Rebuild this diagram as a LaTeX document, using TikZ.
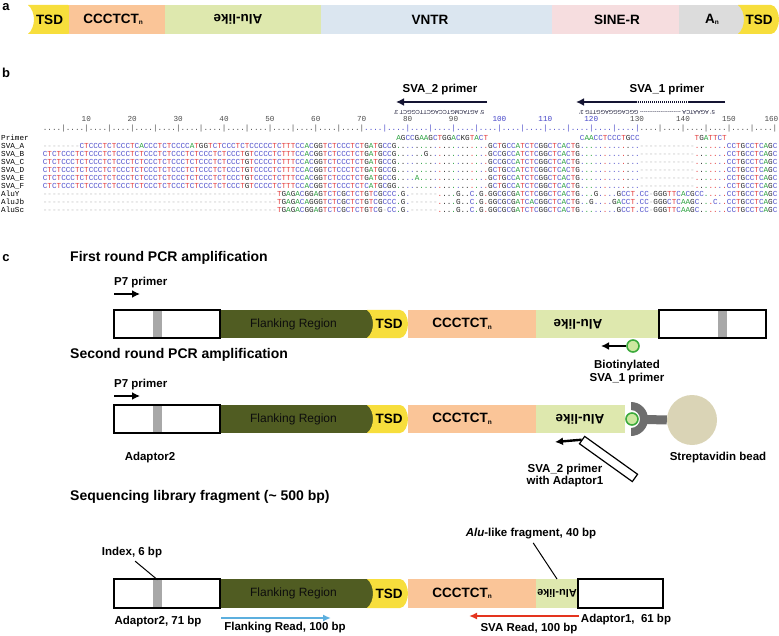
\documentclass[tikz,border=0pt]{standalone}
\usepackage{fontspec}
\setmainfont{Liberation Sans}
\newfontfamily\seqfont{Liberation Mono}
\usepackage{graphicx}
\usetikzlibrary{arrows.meta}

\definecolor{tsdyellow}{RGB}{247,222,60}
\definecolor{ctsalmon}{RGB}{250,197,152}
\definecolor{alugreen}{RGB}{222,232,174}
\definecolor{vntrblue}{RGB}{219,230,240}
\definecolor{sinepink}{RGB}{246,221,223}
\definecolor{polyagray}{RGB}{220,220,220}
\definecolor{flankolive}{RGB}{80,92,34}
\definecolor{idxgray}{RGB}{168,168,168}
\definecolor{cupgray}{RGB}{110,110,110}
\definecolor{beadtan}{RGB}{218,212,182}
\definecolor{biogreen}{RGB}{60,170,60}
\definecolor{biofill}{RGB}{205,232,160}
\definecolor{readblue}{RGB}{92,175,222}
\definecolor{readred}{RGB}{228,52,30}
\definecolor{primernavy}{RGB}{20,20,50}
\definecolor{seqA}{RGB}{40,160,60}
\definecolor{seqC}{RGB}{85,85,205}
\definecolor{seqG}{RGB}{45,45,45}
\definecolor{seqT}{RGB}{228,60,60}
\definecolor{seqgap}{RGB}{185,185,185}
\definecolor{rulerblue}{RGB}{70,70,200}

\def\tsdshape(#1:#2:#3:#4){\fill[tsdyellow] (#1,#3) -- ({#2-8},#3) .. controls ({#2-3},#3) and (#2,{(#3+#4)/2-6}) .. (#2,{(#3+#4)/2}) .. controls (#2,{(#3+#4)/2+6}) and ({#2-3},#4) .. ({#2-8},#4) -- (#1,#4) .. controls ({#1+4},{#4-3}) and ({#1+6},{(#3+#4)/2+5}) .. ({#1+6},{(#3+#4)/2}) .. controls ({#1+6},{(#3+#4)/2-5}) and ({#1+4},{#3+3}) .. (#1,#3) -- cycle;}

\newcommand\seqchar[1]{%
  \if#1A\textcolor{seqA}{A}\else
  \if#1C\textcolor{seqC}{C}\else
  \if#1G\textcolor{seqG}{G}\else
  \if#1T\textcolor{seqT}{T}\else
  \if#1a\textcolor{seqA}{.}\else
  \if#1c\textcolor{seqC}{.}\else
  \if#1g\textcolor{seqG}{.}\else
  \if#1t\textcolor{seqT}{.}\else
  \if#1-\textcolor{seqgap}{-}\else
  \textcolor{seqG}{#1}\fi\fi\fi\fi\fi\fi\fi\fi\fi}
\def\seqrow#1{\edef\seqtmp{#1}\expandafter\seqloop\seqtmp\relax}
\def\seqloop#1{\ifx#1\relax\else\seqchar{#1}\expandafter\seqloop\fi}

\def\ctrep{CCCTCT}
\def\dashten{----------}
\def\svahead{CTCT\ctrep\ctrep\ctrep\ctrep\ctrep\ctrep CCCTGTC}
\def\svamid{CCCTCTTTCCACGGTCTCCCTCTGATGCCG}
\def\prdots{agccgaagctggacggtact}
\def\svatail{caacctccctgcc------------tgattctCCTGCCTCAGC}
\def\alugap{\dashten\dashten\dashten\dashten\dashten-}
\def\aluvar{aGc------tggaGggCaGt}

\def\nsub{\raisebox{-1.5pt}{\fontsize{6.5}{7}\selectfont n}}
\def\ctn{CCCTCT\nsub}
\def\aluflip{\rotatebox[origin=c]{180}{Alu-like}}

\tikzset{
  blk/.style={rectangle, inner sep=0pt, outer sep=0pt, anchor=west, minimum height=28pt},
  adbox/.style={blk, draw=black, line width=1.2pt, fill=white},
  stripe/.style={rectangle, fill=idxgray, inner sep=0pt, minimum width=9pt, minimum height=26pt},
  blktxt/.style={font=\fontsize{13.5}{15}\selectfont\bfseries, inner sep=0pt},
  flanktxt/.style={font=\fontsize{12}{14}\selectfont, inner sep=0pt, text=black!95},
  hdr/.style={font=\fontsize{14}{16}\selectfont\bfseries, anchor=west, inner sep=0pt},
  pnl/.style={font=\fontsize{13}{15}\selectfont\bfseries, inner sep=0pt},
  lbl/.style={font=\fontsize{11.5}{13}\selectfont\bfseries, inner sep=0pt, align=center},
  seqtxt/.style={font=\seqfont\fontsize{7.65}{8}\selectfont, inner sep=0pt, anchor=west},
  rulnum/.style={font=\seqfont\fontsize{7.65}{8}\selectfont, inner sep=0pt, text=black!70},
  primline/.style={line width=2.8pt, draw=primernavy},
  primrev/.style={font=\fontsize{5.6}{6}\selectfont, inner sep=0pt, rotate=180, text=primernavy},
  primarrow/.style={line width=2.4pt, -{Latex[length=8pt,width=8pt]}},
  readarrow/.style={line width=2pt, -{Latex[length=8pt,width=7pt]}},
  biotin/.style={circle, draw=biogreen, line width=1.6pt, fill=biofill, minimum size=12pt, inner sep=0pt}
}

\begin{document}
\begin{tikzpicture}[x=1pt, y=-1pt]
		%%%%% START %%%%%
		\useasboundingbox (0,0) rectangle (779,636);
		
		\node[pnl] (pa) at (6,7) {a};
		\tsdshape(28:76:5:34)
		\node[blk, minimum height=29pt, fill=ctsalmon, minimum width=96pt] (cta) at (69,19.5) {};
		\node[blk, minimum height=29pt, fill=alugreen, minimum width=156pt] (alua) at (165,19.5) {};
		\node[blk, minimum height=29pt, fill=vntrblue, minimum width=231pt] (vntra) at (321,19.5) {};
		\node[blk, minimum height=29pt, fill=sinepink, minimum width=127pt] (sinea) at (552,19.5) {};
		\node[blk, minimum height=29pt, fill=polyagray, minimum width=65pt] (polya) at (679,19.5) {};
		\tsdshape(738:779:5:34)
		\node[blktxt] (tsdat1) at (49.5,19.5) {TSD};
		\node[blktxt] (ctat) at (113,19.5) {\ctn};
		\node[blktxt] (aluat) at (238,19.5) {\aluflip};
		\node[blktxt] (vntrat) at (430,19.5) {VNTR};
		\node[blktxt] (sineat) at (617,19.5) {SINE-R};
		\node[blktxt] (polyat) at (712,19.5) {A\nsub};
		\node[blktxt] (tsdat2) at (759,19.5) {TSD};
		
		\node[pnl] (pb) at (6,73) {b};
		\node[lbl] (sva2lbl) at (440,90) {SVA\_2 primer};
		\node[lbl] (sva1lbl) at (667,90) {SVA\_1 primer};
		\coordinate (s2a) at (487,102);
		\coordinate (s2b) at (396,102);
		\draw[primline, -{Latex[length=8pt,width=8pt]}] (s2a) -- (s2b);
		\coordinate (s1a) at (725,102);
		\coordinate (s1b) at (689,102);
		\coordinate (s1c) at (637,102);
		\coordinate (s1d) at (576,102);
		\draw[primline] (s1a) -- (s1b);
		\draw[primline, dash pattern=on 1.2pt off 0.8pt] (s1b) -- (s1c);
		\draw[primline, -{Latex[length=8pt,width=8pt]}] (s1c) -- (s1d);
		\node[primrev] (sva2seq) at (439,112) {5' AGTACMGTCCAGCTTCGGCT 3'};
		\node[primrev] (sva1seq) at (647,112) {5' AGAATCA {-}{-}{-}{-}{-}{-}{-}{-}{-}{-}{-}{-}{-}{-}{-}{-}{-}{-}{-}{-}{-}{-} GGCAGGGAGGTTG 3'};
		
		\foreach \n in {10,20,...,90,130,140,150}
			\node[rulnum] (num\n) at ({42.7+4.59*(\n-0.5)},119) {\n};
		\foreach \n in {100,110,120}
			\node[rulnum, text=rulerblue] (num\n) at ({42.7+4.59*(\n-0.5)},119) {\n};
		\node[rulnum, anchor=east] (num160) at (778.5,119) {160};
		\foreach \k in {0,...,6,13,14,15}
			\node[seqtxt, text=black!70] (rul\k) at ({42.7+45.9*\k},129) {....|....|};
		\foreach \k in {7,...,12}
			\node[seqtxt, text=rulerblue] (rul\k) at ({42.7+45.9*\k},129) {....|....|};
		
		\foreach \lab/\yy [count=\i] in {Primer/138, SVA\_A/146, SVA\_B/154, SVA\_C/162, SVA\_D/170, SVA\_E/178, SVA\_F/186, AluY/194, AluJb/202, AluSc/210}
			\node[seqtxt] (lab\i) at (1,\yy) {\lab};
		
		\node[seqtxt] (prim1) at ({42.7+4.59*77},138) {\seqrow{AGCCGAAGCTGGACKGTACT}};
		\node[seqtxt] (prim2) at ({42.7+4.59*117},138) {\seqrow{CAACCTCCCTGCC}};
		\node[seqtxt] (prim3) at ({42.7+4.59*142},138) {\seqrow{TGATTCT}};
		\node[seqtxt] (rowA) at (42.7,146) {\seqrow{--------CTCCCTCTCCCTCACCCTCTCCCCATGGTCTCCCTCTCCCCCTCTTTCCACGGTCTCCCTCTGATGCCG\prdots GCTGCCATCTCGGCTCACTG\svatail}};
		\node[seqtxt] (rowB) at (42.7,154) {\seqrow{\svahead\svamid agccgaGgctggacggtact GCCGCCATCTCGGCTCACTG\svatail}};
		\node[seqtxt] (rowC) at (42.7,162) {\seqrow{\svahead\svamid\prdots GCCGCCATCTCGGCTCACTG\svatail}};
		\node[seqtxt] (rowD) at (42.7,170) {\seqrow{\svahead\svamid\prdots GCTGCCATCTCGGCTCACTG\svatail}};
		\node[seqtxt] (rowE) at (42.7,178) {\seqrow{\svahead\svamid agccAaagctggacggtact GCTGCCATCTCGGCTCACTG\svatail}};
		\node[seqtxt] (rowF) at (42.7,186) {\seqrow{\svahead CCCTCTTTCCACGGTCTCCCTCTCATGCGG\prdots GCTGCCATCTCGGCTCACTG\svatail}};
		\node[seqtxt] (rowY) at (42.7,194) {\seqrow{\alugap TGAGACGGAGTCTCGCTCTGTCGCCC\aluvar GGCGCGATCTCGGCTCACTG caaGctccGCCTcCC-GGGTTCACGCCattctCCTGCCTCAGC}};
		\node[seqtxt] (rowJb) at (42.7,202) {\seqrow{\alugap TGAGACAGGGTCTCGCTCTGTCGCCC\aluvar GGCGCGATCACGGCTCACTG caGcctcGACCTcCC-GGGCTCAAGCgatCctCCTGCCTCAGC}};
		\node[seqtxt] (rowSc) at (42.7,210) {\seqrow{\alugap TGAGACGGAGTCTCGCTCTGTCG-CC\aluvar GGCGCGATCTCGGCTCACTG caacctccGCCTcCC-GGGTTCAAGCgattctCCTGCCTCAGC}};
		
		\node[pnl] (pc) at (6,258) {c};
		\node[hdr] (hdr1) at (70,258) {First round PCR amplification};
		\node[lbl, anchor=west] (p7lbl1) at (114,283) {P7 primer};
		\coordinate (p7a1) at (114,294);
		\coordinate (p7b1) at (140,294);
		\draw[primarrow] (p7a1) -- (p7b1);
		\node[blk, fill=flankolive, minimum width=153pt] (flank1) at (220,324) {};
		\node[adbox, minimum width=106pt] (adl1) at (114,324) {};
		\node[stripe] (idx1) at (157.5,324) {};
		\node[flanktxt] (flankt1) at (293.5,324) {Flanking Region};
		\tsdshape(367:408:310:338)
		\node[blktxt] (tsd1) at (389,324) {TSD};
		\node[blk, fill=ctsalmon, minimum width=128pt] (ct1) at (408,324) {};
		\node[blktxt] (ctt1) at (462,324) {\ctn};
		\node[blk, fill=alugreen, minimum width=123pt] (alu1) at (536,324) {};
		\node[blktxt] (alut1) at (578,324) {\aluflip};
		\node[adbox, minimum width=107pt] (adr1) at (659,324) {};
		\node[stripe] (idx1r) at (722,324) {};
		\node[biotin] (bio1) at (633,346) {};
		\coordinate (bio1tip) at (601,346);
		\draw[primarrow] (bio1.west) -- (bio1tip);
		\node[lbl] (biolbl) at (627,372) {Biotinylated\\SVA\_1 primer};
		
		\node[hdr] (hdr2) at (70,355) {Second round PCR amplification};
		\node[lbl, anchor=west] (p7lbl2) at (114,385) {P7 primer};
		\coordinate (p7a2) at (114,396);
		\coordinate (p7b2) at (140,396);
		\draw[primarrow] (p7a2) -- (p7b2);
		\node[blk, fill=flankolive, minimum width=153pt] (flank2) at (220,419) {};
		\node[adbox, minimum width=106pt] (adl2) at (114,419) {};
		\node[stripe] (idx2) at (157.5,419) {};
		\node[flanktxt] (flankt2) at (293.5,419) {Flanking Region};
		\tsdshape(367:408:405:433)
		\node[blktxt] (tsd2) at (389,419) {TSD};
		\node[blk, fill=ctsalmon, minimum width=128pt] (ct2) at (408,419) {};
		\node[blktxt] (ctt2) at (462,419) {\ctn};
		\node[blk, fill=alugreen, minimum width=89pt] (alu2) at (536,419) {};
		\node[blktxt] (alut2) at (580,419) {\aluflip};
		\fill[cupgray] (631,402) arc[start angle=-90, end angle=90, radius=17] -- (631,428) arc[start angle=90, end angle=-90, radius=9] -- cycle;
		\node[circle, fill=beadtan, minimum size=50pt, inner sep=0pt] (bead) at (692,420) {};
		\coordinate (cupback) at (646,419.5);
		\draw[cupgray, line width=9pt] (cupback) -- (bead.west);
		\node[biotin] (bio2) at (632,419) {};
		\node[lbl] (ad2lbl) at (150,458) {Adaptor2};
		\node[lbl] (beadlbl) at (718,458) {Streptavidin bead};
		\node[draw=black, line width=1.2pt, fill=white, rectangle, minimum width=65pt, minimum height=9pt, inner sep=0pt, rotate=-35.6] (sva2ad) at (608.5,459) {};
		\coordinate (sva2tip) at (555,442);
		\draw[primarrow] (sva2ad.west) -- (sva2tip);
		\node[lbl, font=\fontsize{11.5}{12}\selectfont\bfseries] (sva2adlbl) at (565,476) {SVA\_2 primer\\with Adaptor1};
		
		\node[hdr] (hdr3) at (70,497) {Sequencing library fragment (\textasciitilde\ 500 bp)};
		\node[blk, fill=flankolive, minimum width=153pt, minimum height=29pt] (flank3) at (220,593.5) {};
		\node[adbox, minimum width=106pt, minimum height=29pt] (adl3) at (114,593.5) {};
		\node[stripe, minimum height=27pt] (idx3) at (157.5,593.5) {};
		\node[flanktxt] (flankt3) at (293.5,593.5) {Flanking Region};
		\tsdshape(367:408:579:608)
		\node[blktxt] (tsd3) at (389,593.5) {TSD};
		\node[blk, fill=ctsalmon, minimum width=128pt, minimum height=29pt] (ct3) at (408,593.5) {};
		\node[blktxt] (ctt3) at (462,593.5) {\ctn};
		\node[blk, fill=alugreen, minimum width=42pt, minimum height=29pt] (alu3) at (536,593.5) {};
		\node[blktxt, font=\fontsize{11}{13}\selectfont\bfseries] (alut3) at (557,593.5) {\aluflip};
		\node[adbox, minimum width=85pt, minimum height=29pt] (adr3) at (578,593.5) {};
		
		\node[lbl] (idxlbl) at (132,553) {Index, 6 bp};
		\draw[line width=1pt, shorten <=4pt] (idxlbl.south) -- (idx3.north);
		\node[lbl] (alulbl) at (531,534) {\itshape Alu\upshape-like fragment, 40 bp};
		\draw[line width=1pt, shorten <=4pt] (alulbl.south) -- (alu3.north);
		\node[lbl] (ad2len) at (158,622) {Adaptor2, 71 bp};
		\coordinate (fra) at (221,618);
		\coordinate (frb) at (331,618);
		\draw[readarrow, readblue] (fra) -- (frb);
		\node[lbl] (frlbl) at (285,628) {Flanking Read, 100 bp};
		\coordinate (sra) at (579,616);
		\coordinate (srb) at (469,616);
		\draw[readarrow, readred] (sra) -- (srb);
		\node[lbl] (srlbl) at (529,629) {SVA Read, 100 bp};
		\node[lbl] (ad1len) at (626,620) {Adaptor1,\ \ 61 bp};
		%%%%% END %%%%%
\end{tikzpicture}
\end{document}
